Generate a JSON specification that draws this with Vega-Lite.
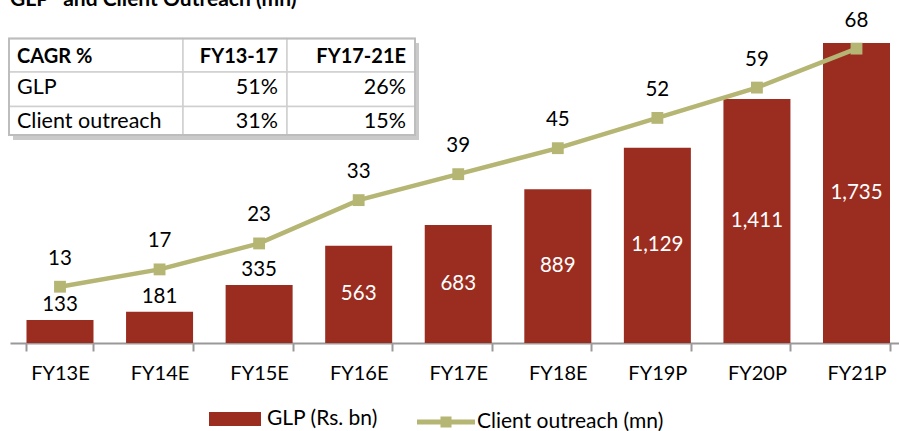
{
  "$schema": "https://vega.github.io/schema/vega-lite/v6.json",
  "width": 889,
  "height": 342,
  "autosize": "none",
  "padding": {"left": 10, "top": 1, "right": 0, "bottom": 88},
  "title": {"text": "GLP* and Client Outreach (mn)", "anchor": "start", "font": "Lato", "fontSize": 21, "fontWeight": "bold", "color": "#000", "offset": -9, "frame": "group"},
  "config": {"font": "Lato", "view": {"stroke": null}},
  "datasets": {
    "main": [
      {"year": "FY13E", "glp": 133, "clients": 13},
      {"year": "FY14E", "glp": 181, "clients": 17},
      {"year": "FY15E", "glp": 335, "clients": 23},
      {"year": "FY16E", "glp": 563, "clients": 33},
      {"year": "FY17E", "glp": 683, "clients": 39},
      {"year": "FY18E", "glp": 889, "clients": 45},
      {"year": "FY19P", "glp": 1129, "clients": 52},
      {"year": "FY20P", "glp": 1411, "clients": 59},
      {"year": "FY21P", "glp": 1735, "clients": 68}
    ],
    "cagr": [
      {"row": 0, "row_end": 1, "col": 0, "col_end": 1, "text": "CAGR %"},
      {"row": 0, "row_end": 1, "col": 1, "col_end": 2, "text": "FY13-17"},
      {"row": 0, "row_end": 1, "col": 2, "col_end": 3, "text": "FY17-21E"},
      {"row": 1, "row_end": 2, "col": 0, "col_end": 1, "text": "GLP"},
      {"row": 1, "row_end": 2, "col": 1, "col_end": 2, "text": "51%"},
      {"row": 1, "row_end": 2, "col": 2, "col_end": 3, "text": "26%"},
      {"row": 2, "row_end": 3, "col": 0, "col_end": 1, "text": "Client outreach"},
      {"row": 2, "row_end": 3, "col": 1, "col_end": 2, "text": "31%"},
      {"row": 2, "row_end": 3, "col": 2, "col_end": 3, "text": "15%"}
    ]
  },
  "resolve": {"scale": {"x": "independent", "y": "independent"}},
  "layer": [
    {
      "data": {"name": "main"},
      "encoding": {
        "x": {"field": "year", "type": "nominal", "sort": null,
          "scale": {"type": "band", "domain": ["FY13E","FY14E","FY15E","FY16E","FY17E","FY18E","FY19P","FY20P","FY21P"], "paddingInner": 0.327, "paddingOuter": 0.128, "align": 0.647},
          "axis": {"title": null, "labelFont": "Lato", "labelFontSize": 20, "labelColor": "#000", "labelAngle": 0, "domainColor": "#999", "domainWidth": 2, "tickColor": "#999", "tickWidth": 2, "tickSize": 8, "tickBand": "extent", "labelPadding": 12, "grid": false}
        }
      },
      "layer": [
        {
          "mark": {"type": "bar"},
          "encoding": {
            "y": {"field": "glp", "type": "quantitative", "scale": {"domain": [0, 1978], "nice": false}, "axis": null},
            "fill": {"datum": "GLP (Rs. bn)", "scale": {"range": ["#9B2D20"]},
              "legend": {"orient": "none", "legendX": 199, "legendY": 392, "title": null, "symbolType": "M-1,-0.27H1V0.27H-1Z", "symbolSize": 2704, "symbolStrokeWidth": 0, "labelFont": "Lato", "labelFontSize": 21, "labelColor": "#000", "labelOffset": 6, "labelLimit": 400}}
          }
        },
        {
          "transform": [{"filter": "datum.glp < 500"}],
          "mark": {"type": "text", "font": "Lato", "fontSize": 20.5, "color": "#000", "baseline": "alphabetic", "dy": -9},
          "encoding": {
            "y": {"field": "glp", "type": "quantitative", "scale": {"domain": [0, 1978], "nice": false}, "axis": null},
            "text": {"field": "glp", "type": "quantitative", "format": ",d"}
          }
        },
        {
          "transform": [{"filter": "datum.glp >= 500"}, {"calculate": "datum.glp / 2", "as": "mid"}],
          "mark": {"type": "text", "font": "Lato", "fontSize": 20.5, "color": "#fff", "baseline": "middle"},
          "encoding": {
            "y": {"field": "mid", "type": "quantitative", "scale": {"domain": [0, 1978], "nice": false}, "axis": null},
            "text": {"field": "glp", "type": "quantitative", "format": ",d"}
          }
        }
      ]
    },
    {
      "data": {"name": "main"},
      "encoding": {
        "x": {"field": "year", "type": "nominal", "sort": null,
          "scale": {"type": "band", "domain": ["FY13E","FY14E","FY15E","FY16E","FY17E","FY18E","FY19P","FY20P","FY21P"], "paddingInner": 0.327, "paddingOuter": 0.128, "align": 0.647},
          "axis": null},
        "y": {"field": "clients", "type": "quantitative", "scale": {"domain": [0, 79], "nice": false}, "axis": null}
      },
      "layer": [
        {
          "mark": {"type": "line", "strokeWidth": 4.5},
          "encoding": {
            "stroke": {"datum": "Client outreach (mn)", "scale": {"range": ["#B5B574"]},
              "legend": {"orient": "none", "legendX": 407, "legendY": 392, "title": null, "symbolType": "M-1,-0.086H1V0.086H-1Z M-0.19,-0.19H0.19V0.19H-0.19Z", "symbolSize": 3364, "symbolStrokeWidth": 0, "symbolFillColor": "#B5B574", "labelFont": "Lato", "labelFontSize": 21, "labelColor": "#000", "labelOffset": 2, "labelLimit": 400,
                "encode": {"symbols": {"update": {"fill": {"value": "#B5B574"}, "strokeWidth": {"value": 0}}}}}}
          }
        },
        {
          "mark": {"type": "point", "shape": "square", "filled": true, "size": 140, "color": "#B5B574", "opacity": 1}
        },
        {
          "mark": {"type": "text", "font": "Lato", "fontSize": 20.5, "color": "#000", "baseline": "alphabetic", "dy": -22},
          "encoding": {"text": {"field": "clients", "type": "quantitative"}}
        }
      ]
    },
    {
      "data": {"name": "cagr"},
      "mark": {"type": "rect", "fill": "#8a8a8a", "opacity": 0.45},
      "encoding": {
        "x": {"aggregate": "min", "field": "col", "type": "quantitative", "scale": {"domain": [0, 1, 2, 3], "range": [3, 177, 281, 409], "nice": false, "zero": false}, "axis": null},
        "x2": {"aggregate": "max", "field": "col_end"},
        "y": {"aggregate": "min", "field": "row", "type": "quantitative", "scale": {"domain": [0, 1, 2, 3], "range": [42, 75.5, 110, 139], "nice": false, "zero": false}, "axis": null},
        "y2": {"aggregate": "max", "field": "row_end"}
      }
    },
    {
      "data": {"name": "cagr"},
      "encoding": {
        "x": {"field": "col", "type": "quantitative", "scale": {"domain": [0, 1, 2, 3], "range": [-1, 173, 277, 405], "nice": false, "zero": false}, "axis": null},
        "y": {"field": "row", "type": "quantitative", "scale": {"domain": [0, 1, 2, 3], "range": [37.5, 71, 105.5, 134], "nice": false, "zero": false}, "axis": null}
      },
      "layer": [
        {
          "mark": {"type": "rect", "fill": "#fff", "stroke": "#cfcfcf", "strokeWidth": 1.5},
          "encoding": {"x2": {"field": "col_end"}, "y2": {"field": "row_end"}}
        },
        {
          "mark": {"type": "rect", "fill": null, "fillOpacity": 0, "stroke": "#bdbdbd", "strokeWidth": 2},
          "encoding": {
            "x": {"aggregate": "min", "field": "col", "type": "quantitative"},
            "x2": {"aggregate": "max", "field": "col_end"},
            "y": {"aggregate": "min", "field": "row", "type": "quantitative"},
            "y2": {"aggregate": "max", "field": "row_end"}
          }
        },
        {
          "transform": [{"filter": "datum.row == 0 && datum.col == 0"}],
          "mark": {"type": "text", "font": "Lato", "fontSize": 20, "fontWeight": "bold", "color": "#000", "align": "left", "baseline": "middle", "dx": 8, "dy": 18},
          "encoding": {"text": {"field": "text"}}
        },
        {
          "transform": [{"filter": "datum.row == 0 && datum.col > 0"}],
          "mark": {"type": "text", "font": "Lato", "fontSize": 20, "fontWeight": "bold", "color": "#000", "align": "right", "baseline": "middle", "dx": -9, "dy": 18},
          "encoding": {"x": {"field": "col_end", "type": "quantitative"}, "text": {"field": "text"}}
        },
        {
          "transform": [{"filter": "datum.row > 0 && datum.col == 0"}],
          "mark": {"type": "text", "font": "Lato", "fontSize": 21.5, "color": "#000", "align": "left", "baseline": "middle", "dx": 8, "dy": 15.5},
          "encoding": {"text": {"field": "text"}}
        },
        {
          "transform": [{"filter": "datum.row > 0 && datum.col > 0"}],
          "mark": {"type": "text", "font": "Lato", "fontSize": 21.5, "color": "#000", "align": "right", "baseline": "middle", "dx": -9, "dy": 15.5},
          "encoding": {"x": {"field": "col_end", "type": "quantitative"}, "text": {"field": "text"}}
        }
      ]
    }
  ]
}
